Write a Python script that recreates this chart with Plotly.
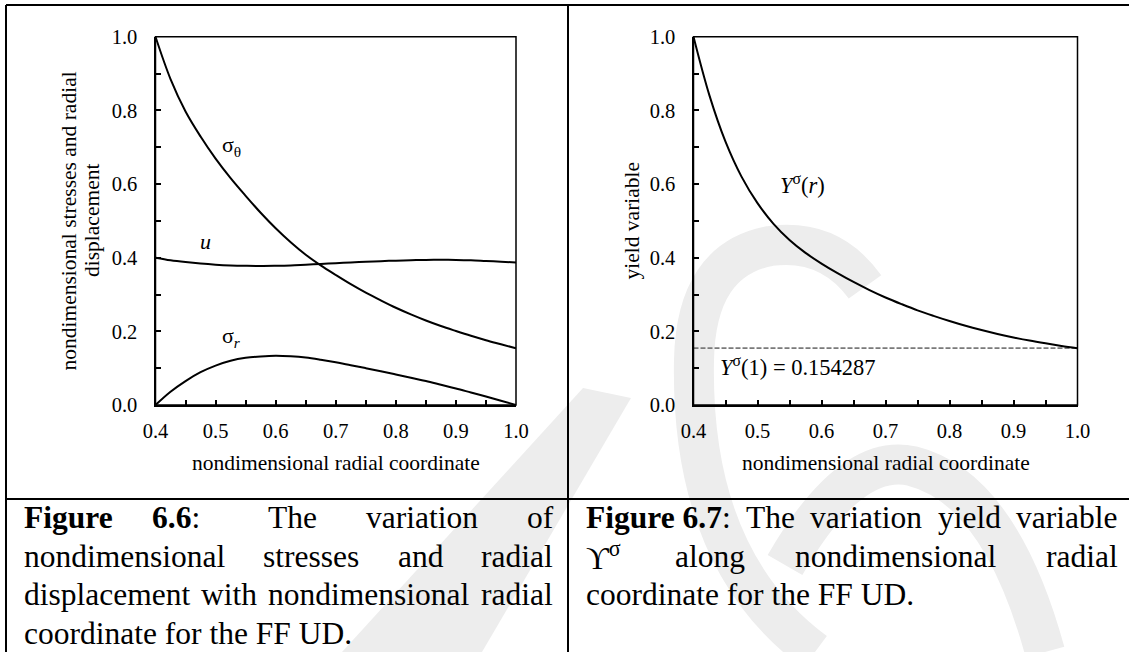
import plotly.graph_objects as go

# ---- data -----------------------------------------------------------------
r = [0.400, 0.425, 0.450, 0.475, 0.500, 0.525, 0.550, 0.575, 0.600, 0.625, 0.650, 0.675,
     0.700, 0.725, 0.750, 0.775, 0.800, 0.825, 0.850, 0.875, 0.900, 0.925, 0.950, 0.975,
     1.000]

sigma_theta = [1.000, 0.885, 0.797, 0.729, 0.669, 0.616, 0.568, 0.522, 0.480, 0.442,
               0.408, 0.379, 0.353, 0.328, 0.305, 0.284, 0.264, 0.246, 0.2295, 0.2145,
               0.201, 0.188, 0.176, 0.165, 0.154]
u_disp = [0.400, 0.393, 0.388, 0.384, 0.381, 0.379, 0.378, 0.3775, 0.378, 0.379,
          0.381, 0.383, 0.385, 0.387, 0.389, 0.3905, 0.392, 0.393, 0.394, 0.3943,
          0.394, 0.393, 0.391, 0.389, 0.387]
sigma_r = [0.000, 0.036, 0.065, 0.089, 0.107, 0.120, 0.128, 0.132, 0.134, 0.1325,
           0.129, 0.123, 0.116, 0.108, 0.100, 0.0915, 0.083, 0.074, 0.065, 0.055,
           0.045, 0.034, 0.023, 0.0115, 0.000]
yield_var = [1.000, 0.840, 0.715, 0.620, 0.548, 0.492, 0.448, 0.413, 0.384, 0.358,
             0.334, 0.312, 0.292, 0.274, 0.257, 0.242, 0.228, 0.215, 0.2035, 0.193,
             0.1835, 0.175, 0.1675, 0.1605, 0.154287]
yield_at_one = 0.154287

x_ticks = [0.4, 0.5, 0.6, 0.7, 0.8, 0.9, 1.0]
x_minor = [0.45, 0.55, 0.65, 0.75, 0.85, 0.95]
y_ticks = [0.0, 0.2, 0.4, 0.6, 0.8, 1.0]
y_minor = [0.1, 0.3, 0.5, 0.7, 0.9]

# ---- page geometry (pixels) -----------------------------------------------
W, H = 1129, 652
FONT = "Liberation Serif"


def px(x):
    return x / W


def py(y):
    return 1 - y / H


def path(points, close=False):
    s = "M " + " L ".join(f"{px(x):.5f},{py(y):.5f}" for x, y in points)
    return s + (" Z" if close else "")


def qpath(start, segs):
    # segs: list of (control, end) pairs for quadratic curves
    s = f"M {px(start[0]):.5f},{py(start[1]):.5f}"
    for (cx, cy), (ex, ey) in segs:
        s += f" Q {px(cx):.5f},{py(cy):.5f} {px(ex):.5f},{py(ey):.5f}"
    return s


fig = go.Figure()

line_style = dict(color="black", width=2, shape="spline", smoothing=1.0)

# left panel: stresses and displacement
for series in (sigma_theta, u_disp, sigma_r):
    fig.add_trace(go.Scatter(x=r, y=series, mode="lines", line=line_style,
                             xaxis="x", yaxis="y", hoverinfo="skip"))

# right panel: yield variable and its value at r = 1
fig.add_trace(go.Scatter(x=[x_ticks[0], x_ticks[-1]], y=[yield_at_one, yield_at_one],
                         mode="lines", line=dict(color="#7a7a7a", width=1.7, dash="5px,2px"),
                         xaxis="x2", yaxis="y2", hoverinfo="skip"))
fig.add_trace(go.Scatter(x=r, y=yield_var, mode="lines", line=line_style,
                         xaxis="x2", yaxis="y2", hoverinfo="skip"))

tick_font = dict(family=FONT, size=20.5, color="black")
tick_style = dict(ticks="inside", ticklen=5, tickwidth=1.5, tickcolor="black",
                  showline=True, linewidth=2.2, linecolor="black", showgrid=False,
                  zeroline=False, tickfont=tick_font, automargin=False)


def xaxis(dom, anchor):
    return dict(domain=dom, anchor=anchor, range=[0.4, 1.0], tickvals=x_ticks,
                ticktext=[f"{v:.1f}" for v in x_ticks], ticklabelstandoff=6,
                minor=dict(tickvals=x_minor, ticks="inside", ticklen=5, tickwidth=1.5,
                           tickcolor="black"), **tick_style)


def yaxis(dom, anchor):
    return dict(domain=dom, anchor=anchor, range=[0.0, 1.0], tickvals=y_ticks,
                ticktext=[f"{v:.1f}" for v in y_ticks], ticklabelstandoff=12,
                minor=dict(tickvals=y_minor, ticks="inside", ticklen=5, tickwidth=1.5,
                           tickcolor="black"), **tick_style)


ydom = [py(405), py(36.7)]
fig.update_layout(
    width=W, height=H, margin=dict(l=0, r=0, t=0, b=0, pad=0, autoexpand=False),
    paper_bgcolor="white", plot_bgcolor="rgba(0,0,0,0)", showlegend=False,
    font=dict(family=FONT, color="black"),
    xaxis=xaxis([px(155.5), px(516)], "y"),
    yaxis=yaxis(ydom, "x"),
    xaxis2=xaxis([px(693.5), px(1077.5)], "y2"),
    yaxis2=yaxis(ydom, "x2"),
)

# ---- shapes: faint background logo, table rules, plot frames ---------------
wm = "#ededed"
shapes = [
    dict(type="path", xref="paper", yref="paper", layer="below",
         path=path([(583, 388), (631, 398), (482, 652), (342, 652)], close=True),
         fillcolor=wm, line=dict(width=0)),
    dict(type="path", xref="paper", yref="paper", layer="below",
         path=qpath((865, 287), [((830, 238), (770, 246)), ((696, 260), (694, 360)),
                                 ((690, 560), (815, 652))]),
         line=dict(color=wm, width=40)),
    dict(type="path", xref="paper", yref="paper", layer="below",
         path=qpath((785, 565), [((850, 452), (912, 466)), ((1000, 488), (1045, 652))]),
         line=dict(color=wm, width=40)),
]
rule = dict(color="black", width=2)
for x0, y0, x1, y1 in [(6, 5, 1129, 5), (6, 5, 6, 652), (568, 5, 568, 652),
                       (6, 499, 1129, 499)]:
    shapes.append(dict(type="line", xref="paper", yref="paper", x0=px(x0), y0=py(y0),
                       x1=px(x1), y1=py(y1), line=rule, layer="above"))
for xr, yr in [("x", "y"), ("x2", "y2")]:
    shapes.append(dict(type="rect", xref=f"{xr} domain", yref=f"{yr} domain",
                       x0=0, x1=1, y0=0, y1=1, line=dict(color="black", width=1.5),
                       layer="above"))
fig.update_layout(shapes=shapes)

# ---- text -----------------------------------------------------------------
ann = []


def label(text, x, y, xref, yref, size=21, xanchor="center", yanchor="middle", **kw):
    ann.append(dict(text=text, x=x, y=y, xref=xref, yref=yref, showarrow=False,
                    xanchor=xanchor, yanchor=yanchor,
                    font=dict(family=FONT, size=size, color="black"), **kw))


# curve labels
label("σ<sub>θ</sub>", 0.527, 0.703, "x", "y", size=22)
label("<i>u</i>", 0.483, 0.445, "x", "y", size=22)
label("σ<sub><i>r</i></sub>", 0.527, 0.185, "x", "y", size=22)
label("<i>Y</i><sup>σ</sup>(<i>r</i>)", 0.571, 0.600, "x2", "y2", size=22.5)
label(f"<i>Y</i><sup>σ</sup>(1) = {yield_at_one}", 0.5625, 0.105, "x2", "y2", size=22.5)

# axis titles
label("nondimensional radial coordinate", px(336), py(463), "paper", "paper", size=21.5)
label("nondimensional radial coordinate", px(886), py(463), "paper", "paper", size=21.5)
label("nondimensional stresses and radial", px(68.5), py(221), "paper", "paper",
      size=21.5, textangle=-90)
label("displacement", px(92), py(221), "paper", "paper", size=21.5, textangle=-90)
label("yield variable", px(631.5), py(221), "paper", "paper", size=21.5, textangle=-90)

# captions, placed word by word so each line comes out justified
CAP = 31.5
rows = [517, 556, 594.5, 633]
caption_words = [
    # (text, left x, row)
    ("<b>Figure</b>", 21.6, 0), ("<b>6.6</b>:", 150, 0), ("The", 266, 0),
    ("variation", 364, 0), ("of", 525, 0),
    ("nondimensional", 21.6, 1), ("stresses", 261, 1), ("and", 395.5, 1),
    ("radial", 479.2, 1),
    ("displacement", 21.6, 2), ("with", 199, 2), ("nondimensional", 266.2, 2),
    ("radial", 478.7, 2),
    ("coordinate for the FF UD.", 21.6, 3),
    ("<b>Figure 6.7</b>:", 584, 0), ("The", 744.4, 0), ("variation", 808.4, 0),
    ("yield", 935.5, 0), ("variable", 1013.5, 0),
    ("ϒ<sup>σ</sup>", 584, 1), ("along", 673, 1), ("nondimensional", 792.5, 1),
    ("radial", 1043.5, 1),
    ("coordinate for the FF UD.", 584, 2),
]
for text, x, row in caption_words:
    label(text, px(x), py(rows[row]), "paper", "paper", size=CAP, xanchor="left")

fig.update_layout(annotations=ann)

fig.write_html("out.html",
               post_script="document.body.style.margin='0px';"
                           "document.body.style.padding='0px';"
                           "document.documentElement.style.overflow='hidden';")
